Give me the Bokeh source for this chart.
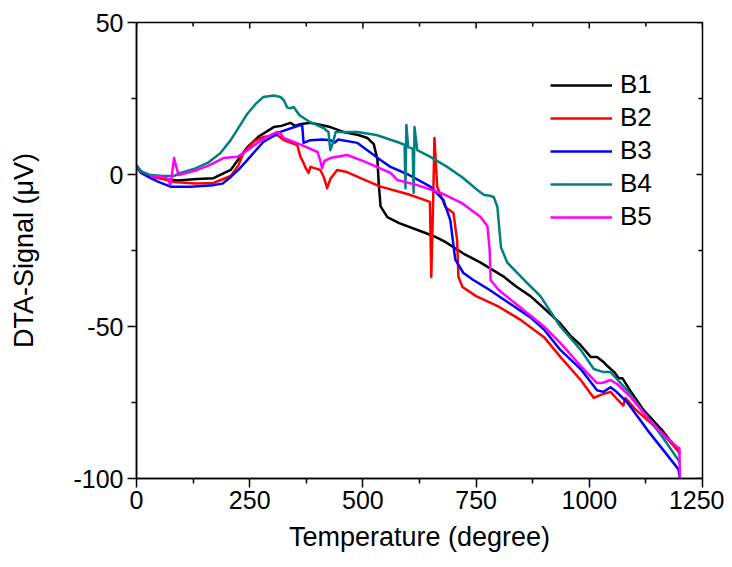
import math
from bokeh.plotting import figure
from bokeh.models import FixedTicker, Legend, LegendItem, Range1d
from bokeh.embed import file_html
from bokeh.resources import INLINE

# ---- data ----
b1_t = [0, 10, 30, 60, 90, 134, 170, 208, 230, 245, 270, 303, 320, 340, 350, 360, 384, 428, 457, 490,
        510, 524, 532, 535, 539, 554, 580, 634, 660, 680, 722, 760, 810, 840, 870, 900, 936, 958, 980,
        1003, 1017, 1030, 1040, 1055, 1065, 1073, 1090, 1120, 1160, 1197, 1200]
b1_v = [3, 1, -0.5, -1.5, -2, -1.5, -1.2, 1.5, 6, 9, 12.5, 15.6, 16, 17, 16, 16.5, 17, 15.6, 14, 13,
        12, 10, 5, -3, -10.5, -14, -16, -19, -20.5, -22, -26, -29, -33.5, -37, -40, -44, -49, -53, -56,
        -60, -60, -61.5, -63, -65, -67, -67, -71, -77.5, -84, -91, -92]

b2_t = [0, 10, 30, 60, 82, 130, 170, 208, 225, 236, 260, 280, 311, 325, 340, 355, 362, 369, 374, 380,
        384, 395, 406, 414, 421, 428, 443, 465, 500, 539, 600, 648, 651, 655, 658, 664, 682, 700, 708,
        711, 720, 750, 800, 850, 900, 936, 981, 1010, 1025, 1047, 1062, 1075, 1080, 1100, 1128, 1160,
        1197, 1200]
b2_v = [3, 1, -0.5, -1.5, -2.5, -3, -2.8, -0.5, 3, 7, 11, 12.3, 13, 11.3, 10.5, 9.7, 5.8, 3.8, 2, 0.5,
        2.5, 2, 1.5, -1, -4.5, -1.5, 1.5, 0.8, -1.5, -4, -6.5, -9, -33.7, -10, 12, -4, -10.7, -12.7, -21.5,
        -33.7, -37, -40, -43.5, -48, -53.5, -60, -67.6, -73.5, -72.5, -71.5, -74, -76, -73.5, -77, -80.7,
        -85, -91, -92]

b3_t = [0, 10, 31, 50, 75, 120, 170, 190, 208, 225, 245, 280, 318, 362, 366, 369, 384, 410, 428, 438,
        445, 488, 539, 561, 600, 649, 678, 693, 704, 722, 744, 780, 820, 870, 900, 936, 981, 1017, 1031,
        1047, 1060, 1084, 1128, 1160, 1197, 1200]
b3_v = [2.5, 0.5, -1.2, -2.5, -4, -4, -3.5, -3, -0.8, 1.5, 4.8, 10.7, 14, 16.3, 16, 10.4, 11.3, 11.5,
        11.3, 10.5, 11.5, 10.4, 4.8, 2.5, 0, -4, -8.4, -15, -28, -32.4, -34.7, -38, -42, -47, -51, -57.7,
        -64, -71, -71.5, -70, -71.5, -75, -84, -90, -97, -100]

b4_t = [0, 10, 31, 60, 82, 97, 130, 157, 185, 208, 230, 245, 265, 280, 303, 318, 325, 333, 340, 347,
        360, 384, 413, 424, 428, 433, 440, 488, 530, 576, 592, 594, 596, 600, 610, 612, 614, 620, 649,
        686, 720, 752, 767, 780, 789, 797, 805, 819, 856, 892, 936, 981, 1010, 1031, 1047, 1084, 1128,
        1160, 1197, 1200]
b4_v = [3, 1, -0.2, -0.5, -0.5, 0.5, 2, 3.8, 7, 11.3, 16.5, 20, 23.5, 25.5, 26, 25.5, 24.5, 22, 21.8,
        22.2, 19.5, 17.2, 15.3, 14, 8, 10, 14, 14, 13, 10.7, 9.8, -4.5, 16.3, 9, 8.5, -6, 15.6, 8, 5.8,
        2.5, -1, -5, -6.7, -7, -7.4, -10.7, -24, -29, -34.7, -40, -50, -57.7, -64, -65, -65, -71, -79.8,
        -86, -94, -95]

b5_t = [30, 60, 70, 75, 80, 83, 87, 93, 134, 160, 192, 223, 245, 267, 290, 311, 318, 325, 360, 400,
        405, 410, 415, 428, 465, 500, 561, 576, 620, 671, 720, 760, 775, 780, 782, 800, 850, 900, 936,
        981, 1017, 1030, 1047, 1062, 1090, 1128, 1160, 1197, 1199, 1200]
b5_v = [-0.5, -0.8, -1.5, -3.5, 2, 5.4, 3, -0.2, 1.5, 3, 5.4, 5.8, 8, 10.4, 12.5, 14, 13.5, 12, 10, 7.4,
        5, 2.1, 4.5, 5.4, 6.4, 4.5, 0.5, -1.8, -3.5, -6, -9.5, -14, -17, -25, -34.7, -38, -44, -50, -55.4,
        -63, -68.6, -68.5, -67.6, -69, -73, -79.8, -85, -90, -90, -100]

series_names = ["B1", "B2", "B3", "B4", "B5"]
series_colors = ["#000000", "#ff0000", "#0000ff", "#008080", "#ff00ff"]
x_ticks = [0, 250, 500, 750, 1000, 1250]
x_minor = [125, 375, 625, 875, 1125]
y_ticks = [-100, -50, 0, 50]
y_minor = [-75, -25, 25]

FONT = "Liberation Sans"

p = figure(width=724, height=559, output_backend="svg", toolbar_location=None,
           x_range=Range1d(x_ticks[0], x_ticks[-1]), y_range=Range1d(y_ticks[0], y_ticks[-1]),
           min_border_left=136, min_border_right=22, min_border_top=22, min_border_bottom=81)
p.grid.visible = False
p.outline_line_color = "black"
p.outline_line_width = 1.5
p.background_fill_color = "white"
p.border_fill_color = "white"

for ax in p.xaxis:
    ax.ticker = FixedTicker(ticks=x_ticks, minor_ticks=x_minor)
    ax.axis_label = "Temperature (degree)"
    ax.major_label_overrides = {v: str(v) for v in x_ticks}
for ax in p.yaxis:
    ax.ticker = FixedTicker(ticks=y_ticks, minor_ticks=y_minor)
    ax.axis_label = "DTA-Signal (\u03bcV)"
    ax.major_label_overrides = {v: str(v) for v in y_ticks}
for ax in list(p.xaxis) + list(p.yaxis):
    ax.axis_line_width = 1.5
    ax.major_tick_line_width = 1.5
    ax.minor_tick_line_width = 1.5
    ax.major_tick_out = 9
    ax.major_tick_in = 0
    ax.minor_tick_out = 5
    ax.minor_tick_in = 0
    ax.major_label_text_font = FONT
    ax.major_label_text_font_size = "25px"
    ax.major_label_text_color = "black"
    ax.axis_label_text_font = FONT
    ax.axis_label_text_font_size = "27px"
    ax.axis_label_text_font_style = "normal"
    ax.axis_label_text_color = "black"
p.xaxis.major_label_standoff = 3
p.xaxis.axis_label_standoff = 10
p.yaxis.major_label_standoff = 4
p.yaxis.axis_label_standoff = 31

# inward ticks on the top and right frame edges
y_top = y_ticks[-1]
x_right = x_ticks[-1]
p.ray(x=x_ticks, y=[y_top] * len(x_ticks), length=6, angle=-math.pi / 2, length_units="screen",
      line_color="black", line_width=1.5)
p.ray(x=x_minor, y=[y_top] * len(x_minor), length=4, angle=-math.pi / 2, length_units="screen",
      line_color="black", line_width=1.5)
p.ray(x=[x_right] * len(y_ticks), y=y_ticks, length=6, angle=math.pi, length_units="screen",
      line_color="black", line_width=1.5)
p.ray(x=[x_right] * len(y_minor), y=y_minor, length=4, angle=math.pi, length_units="screen",
      line_color="black", line_width=1.5)

data = [(b1_t, b1_v), (b2_t, b2_v), (b3_t, b3_v), (b4_t, b4_v), (b5_t, b5_v)]
items = []
for (t, v), name, col in zip(data, series_names, series_colors):
    r = p.line(t, v, line_color=col, line_width=2.5, line_join="round")
    items.append(LegendItem(label=name, renderers=[r]))

legend = Legend(items=items, location=(414, 246), border_line_alpha=0, background_fill_alpha=0,
                glyph_width=62, glyph_height=20, label_text_font=FONT, label_text_font_size="26px",
                label_text_color="black", label_standoff=8, spacing=2, padding=0, margin=0)
p.add_layout(legend)

open("out.html", "w").write(file_html(p, INLINE))
